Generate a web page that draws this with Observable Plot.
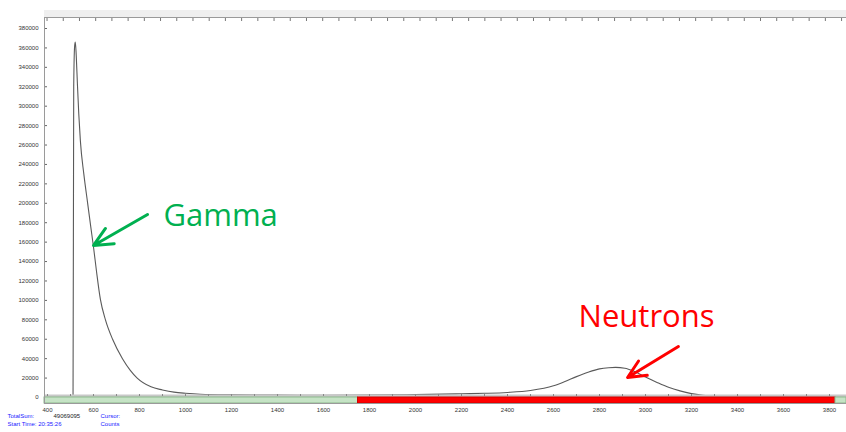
<!DOCTYPE html>
<html>
<head>
<meta charset="utf-8">
<script src="https://cdn.jsdelivr.net/npm/d3@7"></script>
<script src="https://cdn.jsdelivr.net/npm/@observablehq/plot@0.6"></script>
<style>
  html, body { margin: 0; padding: 0; background: #fff; }
  #chart svg { display: block; }
</style>
</head>
<body>
<div id="chart"></div>
<script>
// Spectrum: channel vs counts
const channels = [400, 508, 511, 514, 518, 521, 525, 530, 536, 543, 558, 574, 588, 600, 613, 630, 652, 683, 726, 760, 790, 850, 900, 950, 1000, 1065, 1200, 1400, 1600, 1800, 2000, 2200, 2300, 2400, 2500, 2600, 2650, 2700, 2750, 2800, 2840, 2870, 2910, 2950, 3000, 3050, 3100, 3150, 3200, 3250, 3300, 3360, 3500, 3874];
const counts   = [0,   0,   0,   320000, 362000, 366000, 352000, 323000, 292000, 264000, 230000, 201000, 176000, 155000, 130000, 101000, 80000, 60000, 40000, 28000, 20000, 11000, 7800, 5500, 4300, 3300, 2700, 2400, 2300, 2500, 3000, 3800, 4300, 5200, 7200, 12000, 16500, 21500, 26000, 29500, 30700, 31000, 30200, 27000, 21000, 15500, 10500, 6800, 4000, 2200, 1000, 0, 0, 0];

// Y tick values and X label ticks
const yTicks = d3.range(0, 380001, 20000);
const xLabelTicks = [400, 600, 800, 1000, 1200, 1400, 1600, 1800, 2000, 2200, 2400, 2600, 2800, 3000, 3200, 3400, 3600, 3800];
const xMinorTicks = d3.range(400, 3874, 100);
const topTicks = d3.range(398, 3874, 70.5);

// Region-of-interest bar along the bottom
const regionStart = [387, 1750, 3826];
const regionEnd   = [1750, 3826, 3874];
const regionKind  = ["off", "roi", "off"];

// Annotations
const labelNames = ["Gamma", "Neutrons"];
const labelChannel = [904, 2709];
const labelCounts = [177000, 72100];
const arrowFromCh = [835, 3143];
const arrowFromCt = [188500, 52500];
const arrowToCh = [600, 2922];
const arrowToCt = [156600, 20600];
const annotColors = ["#00b050", "#ff0000"];

// Footer status text
const statusLabels = ["TotalSum:", "Start Time: 20:35:26", "Cursor:", "Counts"];
const totalSum = "49069095";

const spectrum = channels.map((c, i) => ({ch: c, n: counts[i]}));
const regions = regionStart.map((s, i) => ({s, e: regionEnd[i], kind: regionKind[i]}));
const labels = labelNames.map((t, i) => ({t, ch: labelChannel[i], n: labelCounts[i], c: annotColors[i]}));
const arrows = arrowFromCh.map((c, i) => ({x1: c, y1: arrowFromCt[i], x2: arrowToCh[i], y2: arrowToCt[i], c: annotColors[i]}));

const chart = Plot.plot({
  width: 846,
  height: 432,
  marginLeft: 44,
  marginRight: 0,
  marginTop: 17,
  marginBottom: 29,
  style: {
    background: "linear-gradient(to bottom, #fff 0px, #fff 10px, #efefef 10px, #efefef 17px, transparent 17px) no-repeat 44px 0 / 802px 17px, #fff",
    fontFamily: "'Liberation Sans', Arial, sans-serif",
    color: "#333"
  },
  x: {domain: [386.96, 3873.9]},
  y: {domain: [-6180, 391330]},
  marks: [
    Plot.axisY({ticks: yTicks, tickSize: -3, tickPadding: 9, fontSize: 6, tickFormat: d3.format("d"), stroke: "#666", label: null}),
    Plot.axisX({ticks: topTicks, anchor: "top", tickSize: -3, tickFormat: () => "", stroke: "#777", label: null}),
    Plot.line(spectrum, {x: "ch", y: "n", stroke: "#5a5a5a", strokeWidth: 1.1, curve: "monotone-x", clip: true}),
    Plot.ruleY([0], {dy: -1.5, stroke: "#c8c8c8", strokeWidth: 3}),
    Plot.rect(regions, {x1: "s", x2: "e", y1: -6180, y2: 0, fill: d => d.kind === "roi" ? "#ff0000" : "#c5e3c5", stroke: d => d.kind === "roi" ? "#d00000" : "#8db98d", strokeWidth: 1}),
    Plot.axisX({ticks: xMinorTicks, anchor: "bottom", tickSize: 2, dy: -9, tickFormat: () => "", stroke: "#888", label: null}),
    Plot.axisX({ticks: xLabelTicks, anchor: "bottom", tickSize: 0, tickPadding: 4, fontSize: 6, tickFormat: d3.format("d"), label: null}),
    Plot.frame({stroke: "#9a9a9a"}),
    Plot.arrow(arrows, {x1: "x1", y1: "y1", x2: "x2", y2: "y2", stroke: "c", strokeWidth: 3, headLength: 11, headAngle: 50}),
    Plot.text(labels, {x: "ch", y: "n", text: "t", fill: "c", textAnchor: "start", lineAnchor: "bottom", fontSize: 31, fontFamily: "'Open Sans', sans-serif"}),
    Plot.text([statusLabels[0]], {frameAnchor: "bottom-left", dx: -37, dy: 14, fill: "#2020ff", fontSize: 6, textAnchor: "start"}),
    Plot.text([totalSum], {frameAnchor: "bottom-left", dx: 9, dy: 14, fill: "#222", fontSize: 6, textAnchor: "start"}),
    Plot.text([statusLabels[1]], {frameAnchor: "bottom-left", dx: -37, dy: 22, fill: "#2020ff", fontSize: 6, textAnchor: "start"}),
    Plot.text([statusLabels[2]], {frameAnchor: "bottom-left", dx: 56, dy: 14, fill: "#2020ff", fontSize: 6, textAnchor: "start"}),
    Plot.text([statusLabels[3]], {frameAnchor: "bottom-left", dx: 56, dy: 22, fill: "#2020ff", fontSize: 6, textAnchor: "start"})
  ]
});
document.getElementById("chart").appendChild(chart);
</script>
</body>
</html>
